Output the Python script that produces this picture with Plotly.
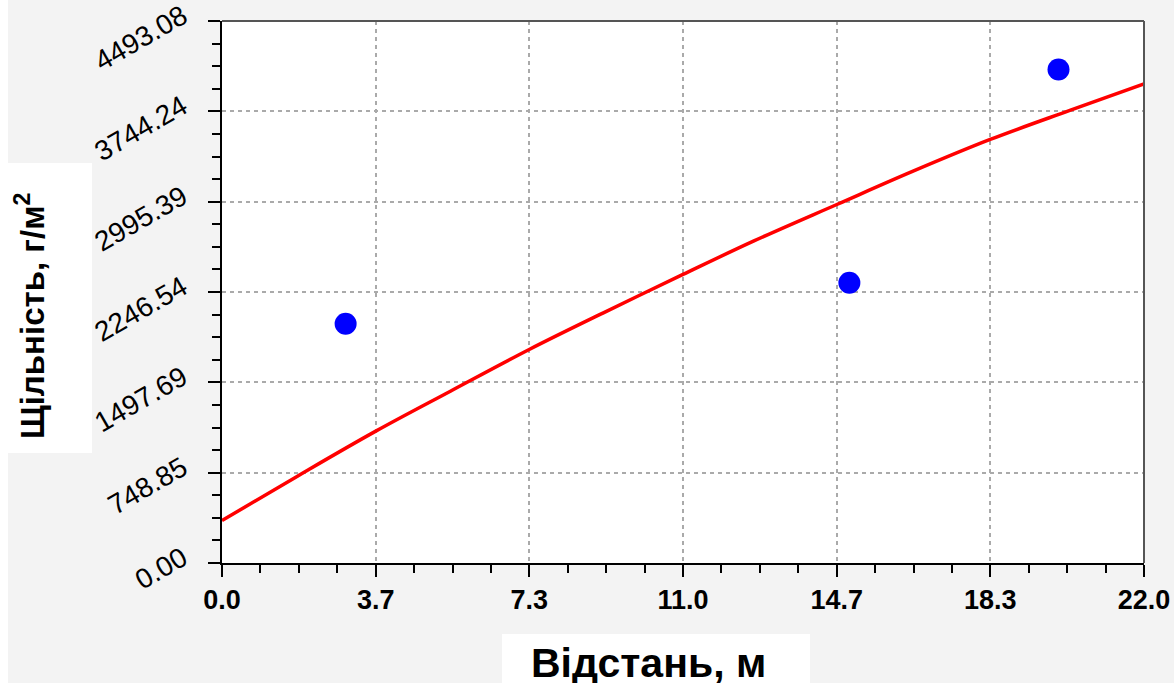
import plotly.graph_objects as go

# ---- data ----
point_x = [2.95, 14.97, 19.96]
point_y = [1983, 2323, 4091]

curve_x = [0.0, 1.8, 3.67, 5.45, 7.33, 9.1, 11.0, 12.68, 14.67, 16.49, 18.33, 20.23, 22.0]
curve_y = [352, 720, 1093, 1424, 1770, 2074, 2392, 2668, 2972, 3248, 3511, 3752, 3972]

x_tickvals = [0, 22/6, 44/6, 11, 88/6, 110/6, 22]
x_ticktext = ["0.0", "3.7", "7.3", "11.0", "14.7", "18.3", "22.0"]
y_tickvals = [0, 748.847, 1497.693, 2246.54, 2995.387, 3744.233, 4493.08]
y_ticktext = ["0.00", "748.85", "1497.69", "2246.54", "2995.39", "3744.24", "4493.08"]

x_title = "Відстань, м"
y_title = "Щільність, г/м<sup>2</sup>"

# ---- layout geometry (pixels) ----
W, H = 1174, 683
L, R, T, B = 222, 30, 21, 120
PW, PH = W - L - R, H - T - B


def px(xp):
    return (xp - L) / PW


def py(yp):
    return (H - B - yp) / PH


fig = go.Figure()
fig.add_trace(go.Scatter(
    x=curve_x, y=curve_y, mode="lines", line=dict(color="#ff0000", width=3.5, shape="spline"),
    showlegend=False, hoverinfo="skip"))
fig.add_trace(go.Scatter(
    x=point_x, y=point_y, mode="markers",
    marker=dict(color="#0000ff", size=22, line=dict(width=0)), showlegend=False))

axis_common = dict(
    showline=True, linecolor="black", linewidth=2,
    ticks="outside", ticklen=12, tickwidth=2, tickcolor="black",
    showgrid=True, gridcolor="#aaaaaa", gridwidth=1.5, griddash="4px,4px",
    zeroline=False, mirror=False, ticklabeloverflow="allow",
)

fig.update_xaxes(
    range=[0, 22], tickmode="array", tickvals=x_tickvals, ticktext=x_ticktext,
    tickfont=dict(family="Liberation Sans, Arial", size=27, color="black", weight="bold"),
    minor=dict(ticks="outside", ticklen=8, tickwidth=2, tickcolor="black",
               tick0=0, dtick=22/24, showgrid=False),
    **axis_common)
fig.update_yaxes(
    range=[0, 4493.08], tickmode="array", tickvals=y_tickvals, ticktext=y_ticktext,
    tickangle=-30, ticklabelstandoff=20, ticklabelshift=-8,
    tickfont=dict(family="Liberation Sans, Arial", size=28, color="black"),
    minor=dict(ticks="outside", ticklen=8, tickwidth=2, tickcolor="black",
               tick0=0, dtick=4493.08/24, showgrid=False),
    **axis_common)

shapes = [
    # white strip at the left edge
    dict(type="rect", xref="paper", yref="paper", x0=px(-2), x1=px(8), y0=py(H + 2), y1=py(-2),
         fillcolor="white", line=dict(width=0), layer="below"),
    # top and right frame
    dict(type="line", xref="paper", yref="paper", x0=0, x1=1, y0=1, y1=1,
         line=dict(color="#555555", width=2)),
    dict(type="line", xref="paper", yref="paper", x0=1, x1=1, y0=0, y1=1,
         line=dict(color="#555555", width=2)),
    # white boxes behind axis titles
    dict(type="rect", xref="paper", yref="paper", x0=px(8), x1=px(92), y0=py(453), y1=py(163),
         fillcolor="white", line=dict(width=0), layer="below"),
    dict(type="rect", xref="paper", yref="paper", x0=px(502), x1=px(810), y0=py(686), y1=py(634),
         fillcolor="white", line=dict(width=0), layer="below"),
]

annotations = [
    dict(text=y_title, xref="paper", yref="paper", x=px(30), y=py(316),
         xanchor="center", yanchor="middle", textangle=-90, showarrow=False,
         font=dict(family="Liberation Sans, Arial", size=33, color="black", weight="bold")),
    dict(text=x_title, xref="paper", yref="paper", x=px(648), y=py(663),
         xanchor="center", yanchor="middle", showarrow=False,
         font=dict(family="Liberation Sans, Arial", size=41, color="black", weight="bold")),
]

fig.update_layout(
    width=W, height=H,
    margin=dict(l=L, r=R, t=T, b=B, autoexpand=False),
    paper_bgcolor="#f3f3f3", plot_bgcolor="white",
    shapes=shapes, annotations=annotations,
    showlegend=False,
)

fig.write_html(
    "out.html",
    config={"displayModeBar": False},
    post_script="document.body.style.margin='0';document.body.style.overflow='hidden';"
                "document.documentElement.style.overflow='hidden';",
)
